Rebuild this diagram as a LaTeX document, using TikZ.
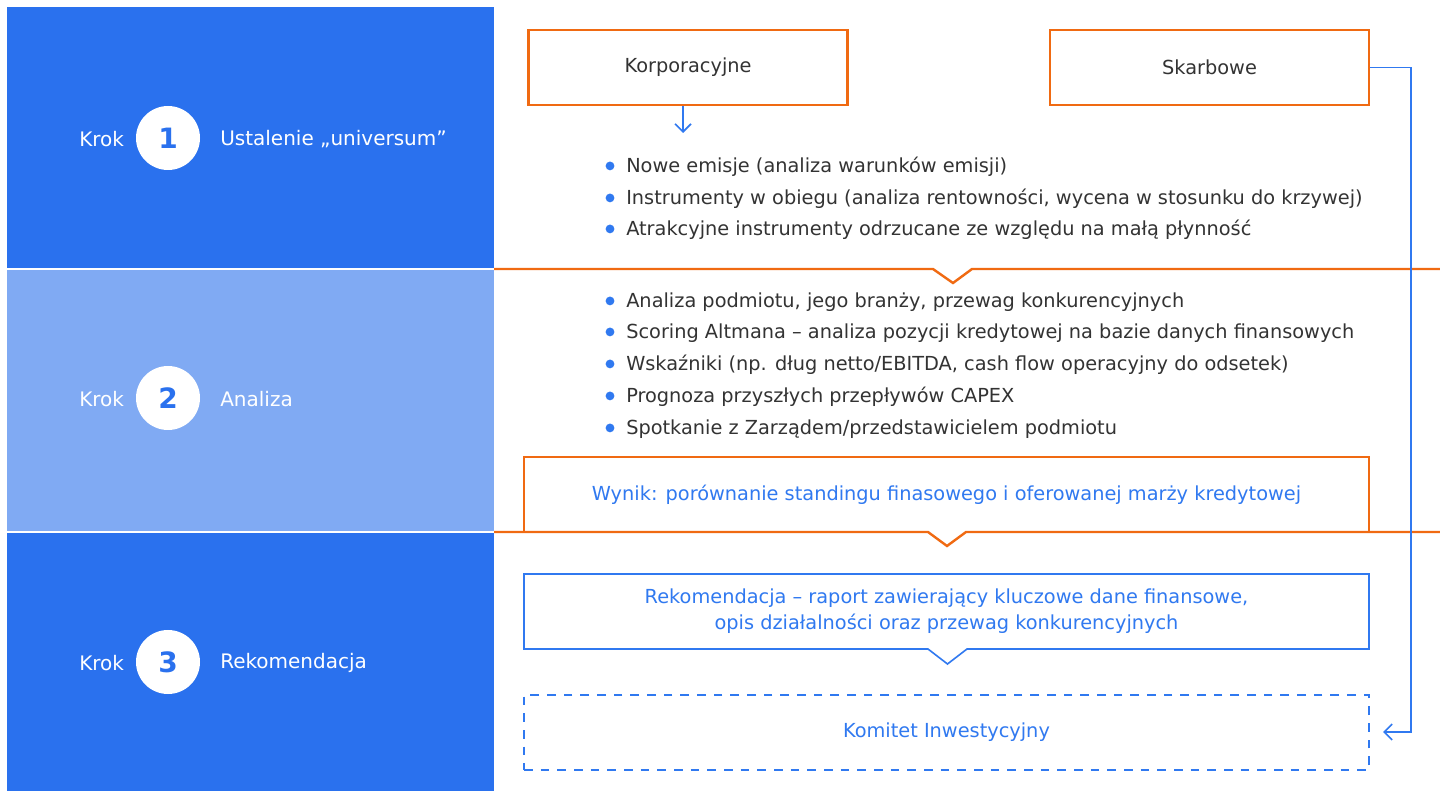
\documentclass[tikz,border=0pt]{standalone}
\usepackage{fontspec}
\setmainfont{DejaVu Sans}
\usetikzlibrary{arrows.meta}
\definecolor{dblue}{HTML}{2A71EE}
\definecolor{lblue}{HTML}{80AAF3}
\definecolor{oran}{HTML}{F06A12}
\definecolor{lineblue}{HTML}{3079F0}
\definecolor{txt}{HTML}{333333}
\begin{document}
\begin{tikzpicture}[x=0.75pt,y=-0.75pt,
  kroktxt/.style={text=white, anchor=west, inner sep=0pt, font=\fontsize{15}{18}\selectfont},
  numcirc/.style={circle, fill=white, minimum size=48pt, inner sep=0pt, text=dblue, font=\fontsize{21}{24}\selectfont\bfseries},
  obox/.style={draw=oran, line width=1.8pt, minimum width=239.25pt, minimum height=56.25pt, inner sep=0pt, text=txt, font=\fontsize{14.5}{17}\selectfont},
  item/.style={anchor=west, inner sep=0pt, text=txt, font=\fontsize{14.5}{17}\selectfont},
  bluetxt/.style={inner sep=0pt, text=lineblue, align=center, font=\fontsize{14.5}{19}\selectfont},
  bdot/.style={fill=lineblue},
  oline/.style={draw=oran, line width=1.8pt},
  bline/.style={draw=lineblue, line width=1.2pt},
  arr/.style={draw=lineblue, line width=1.2pt, -{Straight Barb[length=6pt,width=12pt,line width=1.2pt]}}
]
\useasboundingbox (0,0) rectangle (1440,791);
\fill[white] (0,0) rectangle (1440,791);
% panels
\fill[dblue] (7,7) rectangle (494,268);
\fill[lblue] (7,270) rectangle (494,531);
\fill[dblue] (7,533) rectangle (494,791);
% step labels
\node[kroktxt] (k1) at (79,139) {Krok};
\node[numcirc] (c1) at (168,138) {1};
\node[kroktxt] (t1) at (220,139) {Ustalenie „universum”};
\node[kroktxt] (k2) at (79,399) {Krok};
\node[numcirc] (c2) at (168,398) {2};
\node[kroktxt] (t2) at (220,399) {Analiza};
\node[kroktxt] (k3) at (79,663) {Krok};
\node[numcirc] (c3) at (168,662) {3};
\node[kroktxt] (t3) at (220,663) {Rekomendacja};
% top boxes
\node[obox] (korp) at (688,67.5) {Korporacyjne};
\node[obox] (skarb) at (1209.5,67.5) {Skarbowe};
\coordinate (karr) at (683,133);
\draw[arr] (karr |- korp.south) -- (karr);
% bullets group 1
\node[item] (a1) at (626,167) {Nowe emisje (analiza warunków emisji)};
\node[item] (a2) at (626,199) {Instrumenty w obiegu (analiza rentowności, wycena w stosunku do krzywej)};
\node[item] (a3) at (626,230) {Atrakcyjne instrumenty odrzucane ze względu na małą płynność};
\foreach \n in {a1,a2,a3} {\fill[bdot] ([xshift=-12pt,yshift=0.8pt]\n.west) circle (3.3pt);}
% orange divider 1
\draw[oline] (494,269) -- (933,269) -- (953,283) -- (972,269) -- (1440,269);
% bullets group 2
\node[item] (b1) at (626,302) {Analiza podmiotu, jego branży, przewag konkurencyjnych};
\node[item] (b2) at (626,333) {Scoring Altmana – analiza pozycji kredytowej na bazie danych finansowych};
\node[item] (b3) at (626,365) {Wskaźniki (np. dług netto/EBITDA, cash flow operacyjny do odsetek)};
\node[item] (b4) at (626,397) {Prognoza przyszłych przepływów CAPEX};
\node[item] (b5) at (626,429) {Spotkanie z Zarządem/przedstawicielem podmiotu};
\foreach \n in {b1,b2,b3,b4,b5} {\fill[bdot] ([xshift=-12pt,yshift=0.8pt]\n.west) circle (3.3pt);}
% Wynik box
\node[bluetxt] (wynik) at (946.5,495) {Wynik: porównanie standingu finasowego i oferowanej marży kredytowej};
\draw[oline] (524,532) -- (524,457) -- (1369,457) -- (1369,532);
% orange divider 2
\draw[oline] (494,532) -- (928,532) -- (947,546) -- (966,532) -- (1440,532);
% Rekomendacja box
\node[bluetxt] (rek) at (946.5,611) {Rekomendacja – raport zawierający kluczowe dane finansowe,\\opis działalności oraz przewag konkurencyjnych};
\draw[bline] (928,649) -- (524,649) -- (524,574) -- (1369,574) -- (1369,649) -- (967,649) -- (947.5,664) -- cycle;
% Komitet box
\node[bluetxt, draw=lineblue, line width=1.2pt, dash pattern=on 6.5pt off 6pt, minimum width=633.75pt, minimum height=56.25pt] (kom) at (946.5,732.5) {Komitet Inwestycyjny};
% right connector
\coordinate (turn) at (1411,400);
\coordinate (kend) at (1383,732);
\draw[arr] (skarb.east) -| (turn) |- (kend);
\end{tikzpicture}
\end{document}
